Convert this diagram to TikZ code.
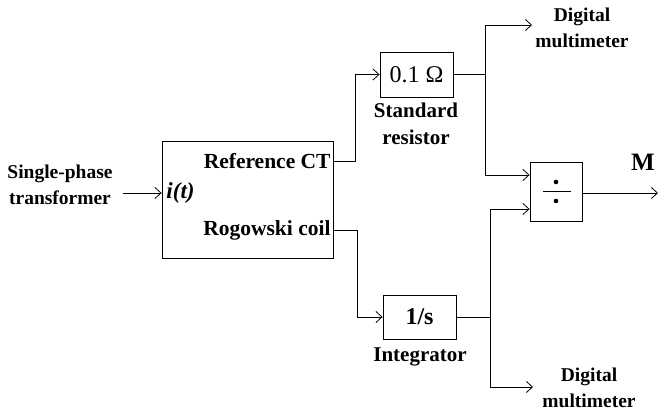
\documentclass[tikz,border=0pt]{standalone}
\usepackage{fontspec}
\setmainfont{Liberation Serif}
\usetikzlibrary{arrows.meta}
\begin{document}
\begin{tikzpicture}[x=1pt,y=-1pt,
  every path/.style={line width=0.9pt},
  lbl/.style={font=\bfseries\fontsize{19.5}{26}\selectfont, align=center, inner sep=0pt},
  boxlbl/.style={font=\bfseries\fontsize{21.5}{26}\selectfont, inner sep=0pt},
  blk/.style={draw, line width=0.9pt, inner sep=0pt},
  arr/.style={-{Straight Barb[length=6pt,width=11pt,line width=0.8pt]}}]
\useasboundingbox (0,0) rectangle (660,417);
% nodes
\node[blk, minimum width=171, minimum height=117] (main) at (247.5,199.5) {};
\node[lbl] (src) at (60,185) {Single-phase\\transformer};
\node[boxlbl, anchor=east] (refct) at (331,161) {Reference CT};
\node[boxlbl, anchor=east] (rogo) at (331,230) {Rogowski coil};
\node[boxlbl, anchor=west, font=\bfseries\itshape\fontsize{23}{26}\selectfont] (it) at (166,193) {i(t)};
\node[blk, minimum width=73, minimum height=45, font=\fontsize{24}{24}\selectfont] (res) at (416.5,74.5) {0.1 Ω};
\node[lbl, font=\bfseries\fontsize{21}{27}\selectfont] (reslbl) at (416,124) {Standard\\resistor};
\node[blk, minimum width=73, minimum height=44, font=\bfseries\fontsize{24}{24}\selectfont] (int) at (419.5,317) {1/s};
\node[lbl, font=\bfseries\fontsize{21}{27}\selectfont] (intlbl) at (420,357) {Integrator};
\node[blk, minimum width=52, minimum height=59] (div) at (556,191.5) {};
\node[lbl] (dmm1) at (582,28) {Digital\\multimeter};
\node[lbl] (dmm2) at (589,388) {Digital\\multimeter};
\node[lbl, font=\bfseries\fontsize{25}{25}\selectfont] (M) at (643,162) {M};
% divide symbol
\draw[line width=1.3pt] ([xshift=-13pt]div.center) -- ([xshift=15pt]div.center);
\fill ([yshift=9.5pt]div.center) circle (2.3pt);
\fill ([yshift=-9.5pt]div.center) circle (2.3pt);
% coordinates
\coordinate (srcend) at (123,193);
\coordinate (j1) at (485,74.5);
\coordinate (j2) at (490,317);
\coordinate (dmm1in) at (532,25);
\coordinate (dmm2in) at (533,387);
\coordinate (out) at (658,193);
% connectors
\draw[arr] (srcend) -- (main.west |- srcend);
\draw[arr] (main.east |- refct) -- ++(22,0) |- (res.west);
\draw[arr] (main.east |- rogo) -- ++(24,0) |- (int.west);
\draw (res.east) -- (j1);
\draw[arr] (j1) |- (dmm1in);
\draw[arr] (j1) |- ([yshift=16.5pt]div.west);
\draw (int.east) -- (j2);
\draw[arr] (j2) |- ([yshift=-17.5pt]div.west);
\draw[arr] (j2) |- (dmm2in);
\draw[arr] (div.east |- out) -- (out);
\end{tikzpicture}
\end{document}
